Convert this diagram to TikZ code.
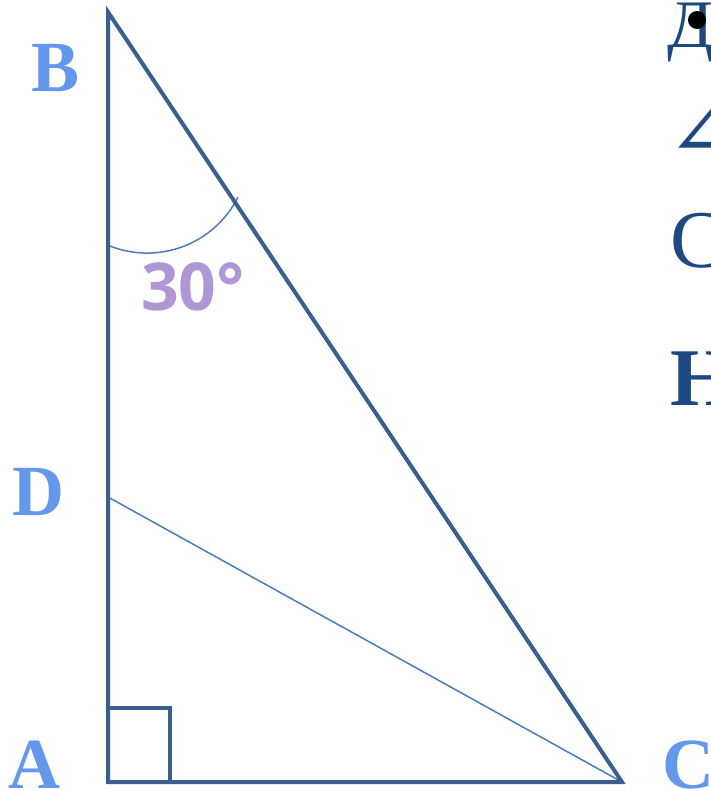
\documentclass[tikz,border=0pt]{standalone}
\usepackage{fontspec}
\setmainfont{Liberation Serif}
\newfontfamily\degfont{Open Sans}
\newfontfamily\symfont{DejaVu Serif}
\usetikzlibrary{positioning}
\definecolor{edgeblue}{RGB}{58,94,142}
\definecolor{thinblue}{RGB}{72,124,190}
\definecolor{labelblue}{RGB}{100,152,236}
\definecolor{textblue}{RGB}{30,72,130}
\definecolor{anglepurple}{RGB}{176,150,212}

\begin{document}
\begin{tikzpicture}[x=1pt, y=-1pt]
    \useasboundingbox (0,0) rectangle (710,790);
    \begin{scope}
    \clip (0,0) rectangle (710,790);
    \coordinate (A) at (108,782);
    \coordinate (B) at (108,12);
    \coordinate (C) at (622,782);
    \coordinate (D) at (108,497);
    \draw[thinblue, line width=1.5pt] (D) -- (C);
    \draw[thinblue, line width=1.5pt] (110,246) arc[start angle=111.5, end angle=26.7, radius=101.6];
    \draw[edgeblue, line width=4pt] (A) rectangle (170,708);
    \draw[edgeblue, line width=4pt, line join=miter] (B) -- (A) -- (C) -- cycle;
    \node[text=labelblue, font=\fontsize{72}{72}\selectfont\bfseries, inner sep=0pt] (lblB) at (56,68) {B};
    \node[text=labelblue, font=\fontsize{72}{72}\selectfont\bfseries, inner sep=0pt] (lblD) at (38,492) {D};
    \node[text=labelblue, font=\fontsize{72}{72}\selectfont\bfseries, inner sep=0pt] (lblA) at (34,765) {A};
    \node[text=labelblue, font=\fontsize{72}{72}\selectfont\bfseries, inner sep=0pt, anchor=west] (lblC) at (662,765) {C};
    \node[text=anglepurple, font=\fontsize{66}{66}\degfont\bfseries, inner sep=0pt] (ang) at (193,287) {30°};
    % text cut off at the right edge
    \node[text=textblue, font=\fontsize{68}{68}\selectfont, inner sep=0pt, anchor=base west] (t1) at (667,47) {Д};
    \fill[black] (697,20) circle[radius=9];
    \node[text=textblue, font=\fontsize{74}{74}\symfont, inner sep=0pt, anchor=base west] (t2) at (668,155) {∠};
    \node[text=textblue, font=\fontsize{82}{82}\selectfont, inner sep=0pt, anchor=base west] (t3) at (670,267) {C};
    \node[text=textblue, font=\fontsize{82}{82}\selectfont\bfseries, inner sep=0pt, anchor=base west] (t4) at (670,405) {H};
    \end{scope}
\end{tikzpicture}
\end{document}
